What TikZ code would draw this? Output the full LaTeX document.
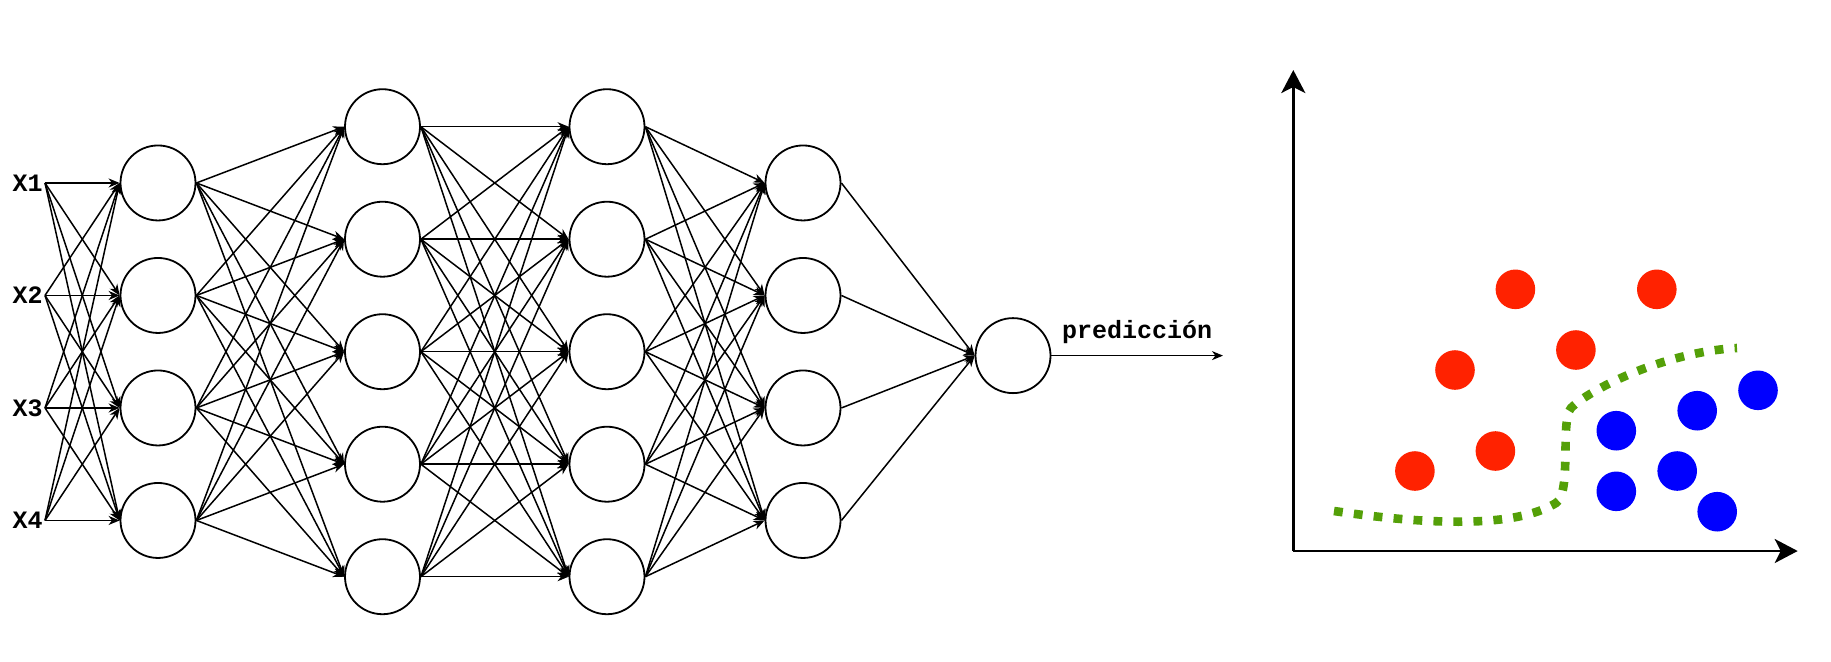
\documentclass[tikz,border=0pt]{standalone}
\usepackage{fontspec}
\setmonofont{Liberation Mono}
\usetikzlibrary{positioning,arrows.meta}

\definecolor{dotred}{RGB}{255,34,0}
\definecolor{dotblue}{RGB}{0,0,255}
\definecolor{splitgreen}{RGB}{84,160,8}

\tikzset{
  neuron/.style={circle, draw, line width=0.9pt, minimum size=37.5pt, inner sep=0pt},
  link/.style={line width=0.75pt, -{Stealth[length=5.5pt, width=4.5pt, inset=1.7pt]}},
  inlabel/.style={font=\ttfamily\bfseries\fontsize{12.5}{14}\selectfont, inner sep=1pt},
  axis/.style={line width=1.4pt, -{Stealth[length=11.5pt, width=12pt, inset=3pt]}},
  reddot/.style={circle, fill=dotred, minimum size=19.8pt, inner sep=0pt},
  bluedot/.style={circle, fill=dotblue, minimum size=19.8pt, inner sep=0pt},
}

\begin{document}
\begin{tikzpicture}[x=0.5pt, y=-0.5pt]
  \useasboundingbox (0,0) rectangle (1831,661);

  % layers of the network
  \foreach \i in {1,...,4} {
    \node[neuron] (a\i) at (158, {351.7+112.5*(\i-2.5)}) {};
    \node[neuron] (d\i) at (803, {351.7+112.5*(\i-2.5)}) {};
  }
  \foreach \i in {1,...,5} {
    \node[neuron] (b\i) at (382.5, {351.7+112.5*(\i-3)}) {};
    \node[neuron] (c\i) at (607, {351.7+112.5*(\i-3)}) {};
  }
  \node[neuron] (o) at (1013, 355.6) {};

  % inputs
  \foreach \i in {1,...,4}
    \node[inlabel, left=37.3pt of a\i] (x\i) {X\i};

  % connections
  \foreach \i in {1,...,4}
    \foreach \j in {1,...,4}
      \draw[link] (x\i.east) -- (a\j.west);
  \foreach \i in {1,...,4}
    \foreach \j in {1,...,5}
      \draw[link] (a\i.east) -- (b\j.west);
  \foreach \i in {1,...,5}
    \foreach \j in {1,...,5}
      \draw[link] (b\i.east) -- (c\j.west);
  \foreach \i in {1,...,5}
    \foreach \j in {1,...,4}
      \draw[link] (c\i.east) -- (d\j.west);
  \foreach \i in {1,...,4}
    \draw[link] (d\i.east) -- (o.west);

  % output
  \coordinate (pred) at (1223, 355.6);
  \draw[link] (o.east) -- (pred) node[midway, inlabel, above=4.5pt] (predlabel) {predicción};

  % chart
  \coordinate (origin) at (1293.3, 551);
  \coordinate (ytip) at (1293.3, 70);
  \coordinate (xtip) at (1797.7, 551);
  \draw[axis] (origin) -- (ytip);
  \draw[axis] (origin) -- (xtip);

  \draw[splitgreen, line width=4.3pt, dash pattern=on 4.4pt off 5.6pt]
    (1334,511) .. controls (1430,525) and (1515,528) .. (1556,503)
    .. controls (1572,493) and (1560,420) .. (1571,408)
    .. controls (1590,389) and (1665,352) .. (1737,348);

  \foreach \x/\y [count=\i] in {1515.4/289.3, 1656.8/289.3, 1575.9/350, 1455/370, 1495.4/451, 1414.9/471}
    \node[reddot] (r\i) at (\x,\y) {};
  \foreach \x/\y [count=\i] in {1758/390.3, 1697.2/410.7, 1616.3/430.7, 1677.2/471, 1616.3/491.3, 1717.2/511.7}
    \node[bluedot] (u\i) at (\x,\y) {};
\end{tikzpicture}
\end{document}
